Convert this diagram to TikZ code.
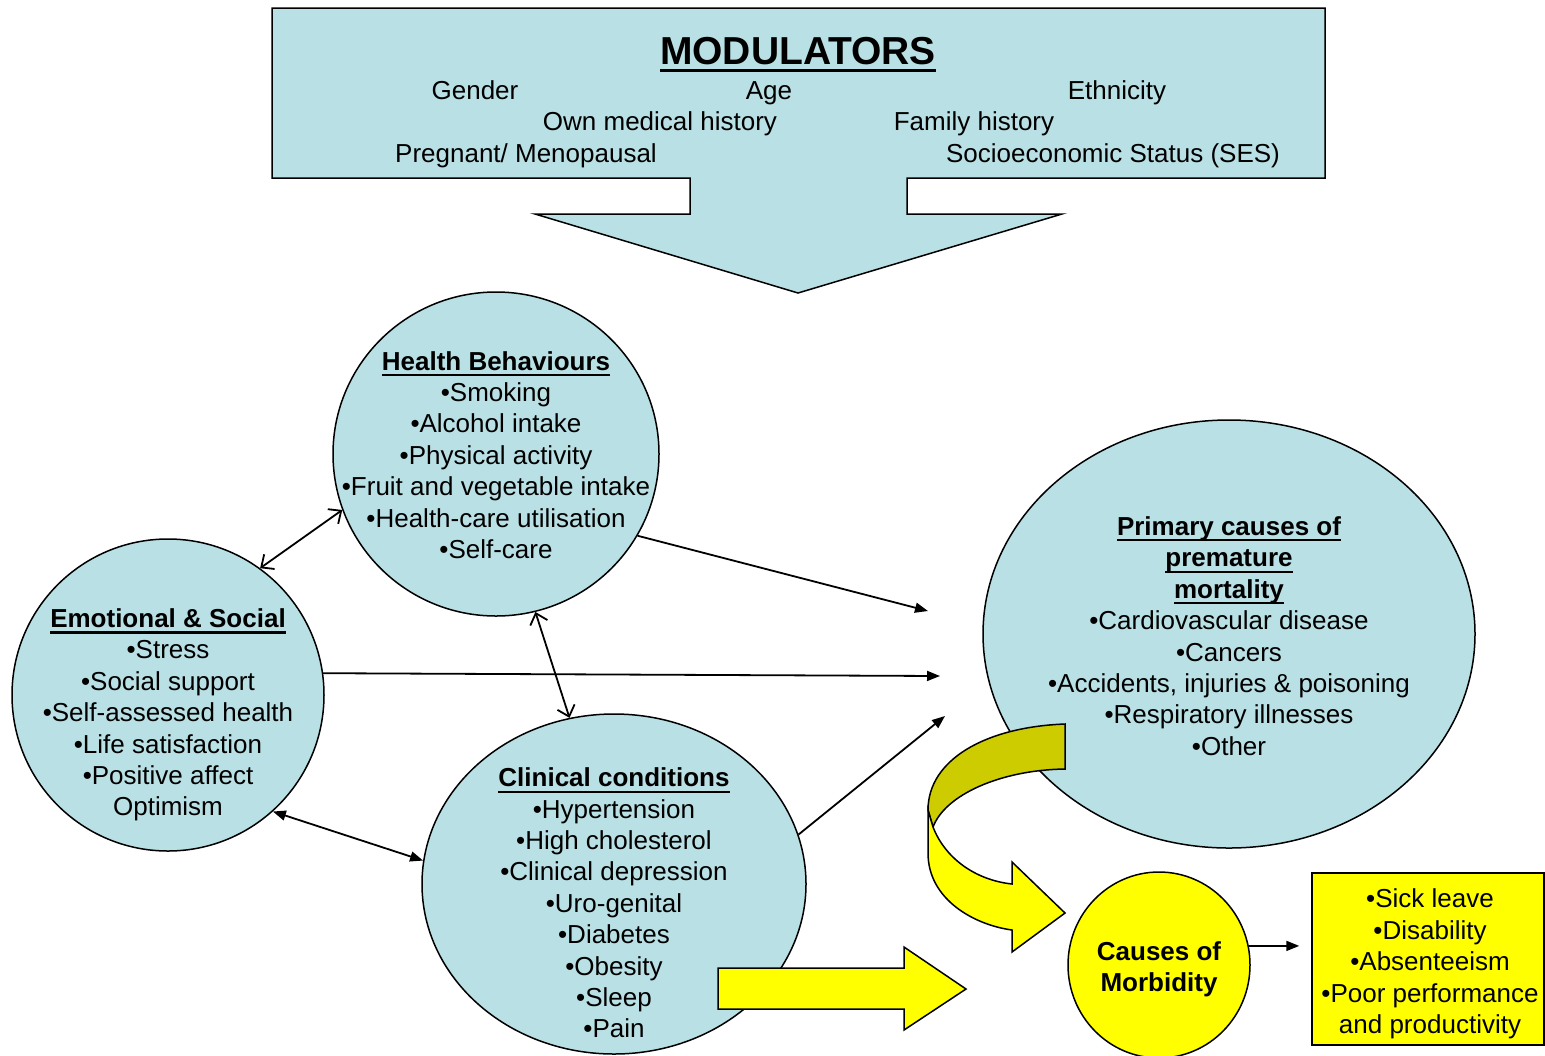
\documentclass[tikz,border=0pt]{standalone}
\usepackage{fontspec}
\setmainfont{Liberation Sans}
\usetikzlibrary{arrows.meta,shapes.geometric}
\definecolor{paleblue}{RGB}{185,224,228}
\definecolor{darkyellow}{RGB}{204,204,0}
\definecolor{brightyellow}{RGB}{255,255,0}
% underline at a fixed distance below the baseline, crossing descenders
\newcommand\fixul[1]{\setbox0\hbox{#1}\rlap{\rule[-3pt]{\wd0}{1.1pt}}\box0}
\newcommand\bigul[1]{\setbox0\hbox{#1}\rlap{\rule[-4.2pt]{\wd0}{1.5pt}}\box0}
\begin{document}
\begin{tikzpicture}[x=0.5pt,y=-0.5pt,
  txt/.style={font=\fontsize{13}{15.7}\selectfont, align=center, inner sep=0pt},
  boldtxt/.style={txt, font=\fontsize{13}{15.7}\selectfont\bfseries},
  linetxt/.style={font=\fontsize{13}{15.7}\selectfont, inner sep=0pt, anchor=base},
  outline/.style={draw=black, line width=0.75pt},
  bubble/.style={ellipse, outline, fill=paleblue, inner sep=0pt},
  link/.style={line width=0.9pt, -{Triangle[length=6.5pt,width=5pt]}},
  twoway/.style={line width=0.9pt, {Triangle[length=6.5pt,width=5pt]}-{Triangle[length=6.5pt,width=5pt]}},
  openway/.style={line width=0.9pt, {Straight Barb[length=5pt,width=9pt]}-{Straight Barb[length=5pt,width=9pt]}}]
\useasboundingbox (0,0) rectangle (1545,1055);

% Modulators box with its downward block arrow
\draw[outline, fill=paleblue] (272,8) -- (1325,8) -- (1325,178) -- (907,178) -- (907,214)
  -- (1062,214) -- (798,293) -- (535,214) -- (690,214) -- (690,178) -- (272,178) -- cycle;
\node[inner sep=0pt, anchor=base, font=\fontsize{19.5}{23}\selectfont\bfseries] (modtitle) at (798,64) {\bigul{MODULATORS}};
\node[linetxt] (gender) at (475,99) {Gender};
\node[linetxt] (age) at (769,99) {Age};
\node[linetxt] (ethn) at (1117,99) {Ethnicity};
\node[linetxt] (ownhist) at (660,130) {Own medical history};
\node[linetxt] (famhist) at (974,130) {Family history};
\node[linetxt] (pregn) at (526,162) {Pregnant/ Menopausal};
\node[linetxt] (ses) at (1113,162) {Socioeconomic Status (SES)};

% Bubbles
\node[bubble, minimum width=163pt, minimum height=162pt] (hb) at (496,454) {};
\node[bubble, minimum width=156pt, minimum height=156pt] (es) at (168,695) {};
\node[bubble, minimum width=192pt, minimum height=170pt] (cc) at (614,884) {};
\node[bubble, minimum width=246pt, minimum height=214pt] (pc) at (1229,634) {};

\node[txt] (hbtxt) at (496,455) {\textbf{\fixul{Health Behaviours}}\\ •Smoking\\ •Alcohol intake\\ •Physical activity\\ •Fruit and vegetable intake\\ •Health-care utilisation\\ •Self-care};
\node[txt] (estxt) at (168,715) {\textbf{\fixul{Emotional \& Social}}\\ •Stress\\ •Social support\\ •Self-assessed health\\ •Life satisfaction\\ •Positive affect\\ Optimism};
\node[txt] (cctxt) at (614,903) {\textbf{\fixul{Clinical conditions}}\\ •Hypertension\\ •High cholesterol\\ •Clinical depression\\ •Uro-genital\\ •Diabetes\\ •Obesity\\ •Sleep\\ •Pain};
\node[txt] (pctxt) at (1229,636) {\textbf{\fixul{Primary causes of}}\\ \textbf{\fixul{premature}}\\ \textbf{\fixul{mortality}}\\ •Cardiovascular disease\\ •Cancers\\ •Accidents, injuries \& poisoning\\ •Respiratory illnesses\\ •Other};

% Connectors between bubbles
\coordinate (pcA) at (928,611);
\coordinate (pcB) at (940,676);
\coordinate (pcC) at (945,716);
\draw[openway] (es.54) -- (hb.200);
\draw[openway] (hb.-76) -- (cc.105);
\draw[twoway] (es.-48) -- (cc.173);
\draw[link] (hb.-30) -- (pcA);
\draw[link] (es.8) -- (pcB);
\draw[link] (cc.15) -- (pcC);

% Straight block arrow from clinical conditions
\draw[outline, fill=brightyellow] (718,968) -- (904,968) -- (904,947) -- (966,989)
  -- (904,1030) -- (904,1009) -- (718,1009) -- cycle;

% Curved ribbon arrow from mortality towards morbidity
\draw[outline, fill=darkyellow] (1065,724) .. controls (985,727) and (928,760) .. (928,810)
  -- (933,827) .. controls (945,795) and (1000,770) .. (1065,769) -- cycle;
\draw[outline, fill=brightyellow] (928,810) -- (928,853) .. controls (928,900) and (975,925) .. (1012,930)
  -- (1012,952) -- (1065,913) -- (1012,862) -- (1012,884)
  .. controls (975,880) and (945,858) .. (933,827) -- cycle;

% Morbidity circle and outcomes box
\node[ellipse, outline, fill=brightyellow, inner sep=0pt, minimum width=91pt, minimum height=93pt] (cm) at (1159,965) {};
\node[boldtxt] (cmtxt) at (1159,969) {Causes of\\ Morbidity};
\node[rectangle, outline, fill=brightyellow, inner sep=0pt, minimum width=116pt, minimum height=86pt] (ybox) at (1428,959) {};
\node[txt] (yboxtxt) at (1430,964) {•Sick leave\\ •Disability\\ •Absenteeism\\ •Poor performance\\ and productivity};
\draw[link, shorten >=6pt] (cm.12) -- (cm.12 -| ybox.west);
\end{tikzpicture}
\end{document}
